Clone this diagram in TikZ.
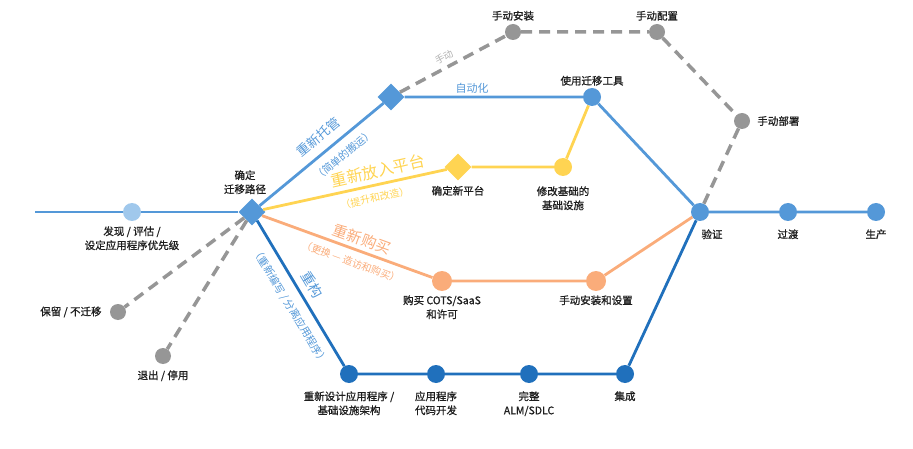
\documentclass[tikz,border=0pt]{standalone}
\usepackage{fontspec}
\usepackage{xcolor}
\setmainfont{Noto Sans CJK SC}
\newfontfamily\lblfont{Noto Sans CJK SC}[FakeBold=1]
\usetikzlibrary{positioning,shapes.geometric}
\definecolor{routeblue}{RGB}{84,152,216}
\definecolor{lightblue}{RGB}{160,200,236}
\definecolor{routeyellow}{RGB}{255,212,82}
\definecolor{routeorange}{RGB}{250,172,122}
\definecolor{darkblue}{RGB}{32,112,188}
\definecolor{stopgray}{RGB}{150,150,150}
\definecolor{lbltext}{RGB}{30,30,30}

\begin{document}
\begin{tikzpicture}[x=1pt,y=-1pt,
  stopnode/.style={circle,inner sep=0pt,minimum size=18pt},
  hubnode/.style={diamond,inner sep=0pt,minimum size=27pt},
  route/.style={line width=2.8pt},
  manual/.style={line width=3.5pt,stopgray,dash pattern=on 11pt off 7pt},
  stoplbl/.style={font=\lblfont\fontsize{10.5}{14}\selectfont,text=lbltext,align=center,inner sep=1pt},
  pathlbl/.style={font=\fontsize{#1}{#1}\selectfont,inner sep=0pt}]
  \useasboundingbox (0,0) rectangle (913,449);

  \coordinate (start) at (35,212);
  \node[stopnode,fill=lightblue] (discover) at (132,212) {};
  \node[hubnode,fill=routeblue] (hub) at (252,212) {};
  \node[stopnode,minimum size=16pt,fill=stopgray] (retain) at (118,312) {};
  \node[stopnode,minimum size=16pt,fill=stopgray] (retire) at (163,356) {};
  \node[hubnode,fill=routeblue] (rehost) at (391,97) {};
  \node[stopnode,minimum size=16pt,fill=stopgray] (mninstall) at (513,32) {};
  \node[stopnode,minimum size=16pt,fill=stopgray] (mnconfig) at (657,32) {};
  \node[stopnode,minimum size=16pt,fill=stopgray] (mndeploy) at (742,121) {};
  \node[stopnode,fill=routeblue] (tool) at (592,97) {};
  \node[hubnode,fill=routeyellow] (newplat) at (458,167) {};
  \node[stopnode,fill=routeyellow] (modinfra) at (563,167) {};
  \node[stopnode,minimum size=20pt,fill=routeorange] (buy) at (442,281) {};
  \node[stopnode,minimum size=20pt,fill=routeorange] (setup) at (596,281) {};
  \node[stopnode,fill=darkblue] (redesign) at (349,374) {};
  \node[stopnode,fill=darkblue] (appdev) at (436,374) {};
  \node[stopnode,fill=darkblue] (alm) at (529,374) {};
  \node[stopnode,fill=darkblue] (integ) at (625,374) {};
  \node[stopnode,fill=routeblue] (verify) at (700,212) {};
  \node[stopnode,fill=routeblue] (transit) at (788,212) {};
  \node[stopnode,fill=routeblue] (prod) at (876,212) {};

  \draw[route,routeblue] (start) -- (discover) -- (hub);
  \draw[manual] (hub) -- (retain);
  \draw[manual] (hub) -- (retire);
  \draw[route,routeblue] (hub) -- (rehost) -- (tool) -- (verify) -- (transit) -- (prod);
  \draw[manual] (rehost) -- (mninstall) -- (mnconfig) -- (mndeploy) -- (verify);
  \draw[route,routeyellow] (hub) -- (newplat) -- (modinfra) -- (tool);
  \draw[route,routeorange] (hub) -- (buy) -- (setup) -- (verify);
  \draw[route,darkblue] (hub) -- (redesign) -- (appdev) -- (alm) -- (integ) -- (verify);

  \node[stoplbl,below=4pt of discover] (discoverlbl) {发现 / 评估 /\\设定应用程序优先级};
  \node[stoplbl,above=3pt of hub,xshift=-7pt] (hublbl) {确定\\迁移路径};
  \node[stoplbl,left=7pt of retain] (retainlbl) {保留 / 不迁移};
  \node[stoplbl,below=5pt of retire] (retirelbl) {退出 / 停用};
  \node[stoplbl,above=2pt of mninstall] (mninstalllbl) {手动安装};
  \node[stoplbl,above=2pt of mnconfig] (mnconfiglbl) {手动配置};
  \node[stoplbl,right=6pt of mndeploy] (mndeploylbl) {手动部署};
  \node[stoplbl,above=1pt of tool] (toollbl) {使用迁移工具};
  \node[stoplbl,below=4pt of newplat] (newplatlbl) {确定新平台};
  \node[stoplbl,below=9pt of modinfra] (modinfralbl) {修改基础的\\基础设施};
  \node[stoplbl,below=3pt of buy] (buylbl) {购买 COTS/SaaS\\和许可};
  \node[stoplbl,below=3pt of setup] (setuplbl) {手动安装和设置};
  \node[stoplbl,below=7pt of redesign] (redesignlbl) {重新设计应用程序 /\\基础设施架构};
  \node[stoplbl,below=7pt of appdev] (appdevlbl) {应用程序\\代码开发};
  \node[stoplbl,below=7pt of alm] (almlbl) {完整\\ALM/SDLC};
  \node[stoplbl,below=7pt of integ] (integlbl) {集成};
  \node[stoplbl,below=7pt of verify,xshift=12pt] (verifylbl) {验证};
  \node[stoplbl,below=7pt of transit] (transitlbl) {过渡};
  \node[stoplbl,below=7pt of prod] (prodlbl) {生产};

  \node[pathlbl=11,text=routeblue] (autolbl) at (472,88) {自动化};
  \node[pathlbl=9.5,text=stopgray!75,rotate=28] (manuallbl) at (444,57) {手动};
  \node[pathlbl=13,text=routeblue,rotate=39.6] (rehostlbl) at (318,137) {重新托管};
  \node[pathlbl=10.5,text=routeblue,rotate=39.6] (rehostsub) at (344,155) {（简单的搬运）};
  \node[pathlbl=16,text=routeyellow,rotate=12.6] (replatlbl) at (378,171) {重新放入平台};
  \node[pathlbl=10,text=routeyellow,rotate=12.6] (replatsub) at (375,198) {（提升和改造）};
  \node[pathlbl=15,text=routeorange,rotate=-20] (repurlbl) at (362,239) {重新购买};
  \node[pathlbl=10,text=routeorange,rotate=-20] (repursub) at (351,262) {（更换 — 造访和购买）};
  \node[pathlbl=14,text=routeblue,rotate=-59] (refaclbl) at (312,285) {重构};
  \node[pathlbl=10.5,text=routeblue,rotate=-59] (refacsub) at (290,306) {（重新编写 / 分离应用程序）};
\end{tikzpicture}
\end{document}
